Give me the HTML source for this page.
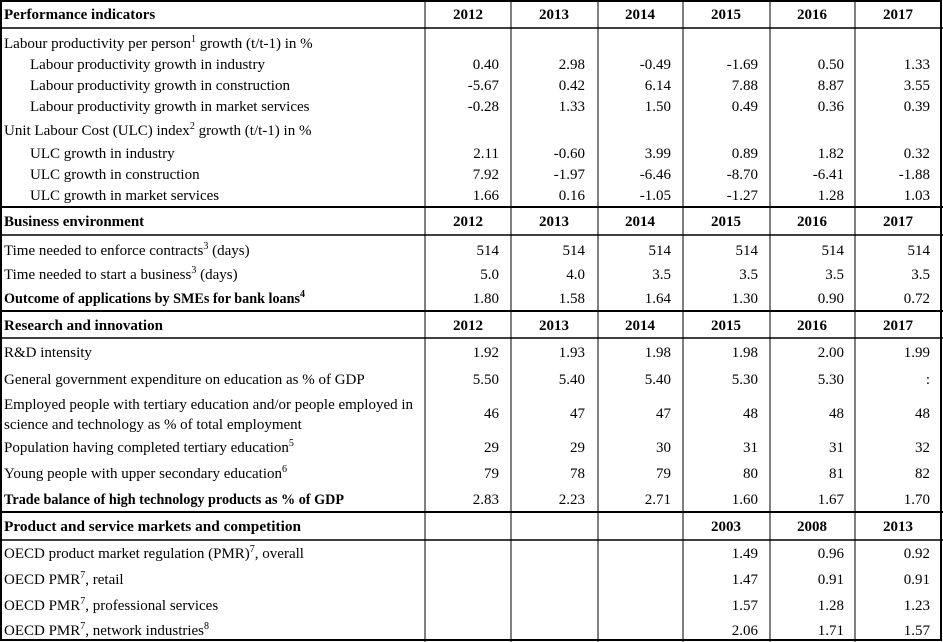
<!DOCTYPE html>
<html><head><meta charset="utf-8"><style>
html,body{margin:0;padding:0;background:#fff}
svg{display:block}
text{font-family:"Liberation Serif",serif;font-size:15px;fill:#000}
.b{font-weight:bold}
.r{text-anchor:end}
.c{text-anchor:middle}
</style></head><body>
<svg width="943" height="642" viewBox="0 0 943 642">
<g stroke="#000" fill="none">
<rect x="1" y="1" width="940" height="639" stroke-width="2"/>
<line x1="0" y1="28" x2="943" y2="28" stroke-width="1.5"/>
<line x1="0" y1="207" x2="943" y2="207" stroke-width="2"/>
<line x1="0" y1="235" x2="943" y2="235" stroke-width="1.5"/>
<line x1="0" y1="311" x2="943" y2="311" stroke-width="2"/>
<line x1="0" y1="338" x2="943" y2="338" stroke-width="1.5"/>
<line x1="0" y1="512" x2="943" y2="512" stroke-width="2"/>
<line x1="0" y1="540" x2="943" y2="540" stroke-width="1.5"/>
<line x1="425" y1="0" x2="425" y2="642"/>
<line x1="511" y1="0" x2="511" y2="642"/>
<line x1="598" y1="0" x2="598" y2="642"/>
<line x1="683" y1="0" x2="683" y2="642"/>
<line x1="770" y1="0" x2="770" y2="642"/>
<line x1="855" y1="0" x2="855" y2="642"/>
</g>
<!-- headers -->
<text class="b" x="4" y="19">Performance indicators</text>
<g class="b c"><text class="b c" x="468" y="19">2012</text><text class="b c" x="554" y="19">2013</text><text class="b c" x="640" y="19">2014</text><text class="b c" x="726" y="19">2015</text><text class="b c" x="812" y="19">2016</text><text class="b c" x="898" y="19">2017</text></g>
<text class="b" x="4" y="226">Business environment</text>
<text class="b c" x="468" y="226">2012</text><text class="b c" x="554" y="226">2013</text><text class="b c" x="640" y="226">2014</text><text class="b c" x="726" y="226">2015</text><text class="b c" x="812" y="226">2016</text><text class="b c" x="898" y="226">2017</text>
<text class="b" x="4" y="330">Research and innovation</text>
<text class="b c" x="468" y="330">2012</text><text class="b c" x="554" y="330">2013</text><text class="b c" x="640" y="330">2014</text><text class="b c" x="726" y="330">2015</text><text class="b c" x="812" y="330">2016</text><text class="b c" x="898" y="330">2017</text>
<text class="b" x="4" y="531" textLength="297" lengthAdjust="spacingAndGlyphs">Product and service markets and competition</text>
<text class="b c" x="726" y="531">2003</text><text class="b c" x="812" y="531">2008</text><text class="b c" x="898" y="531">2013</text>

<!-- performance rows -->
<text x="4" y="48">Labour productivity per person<tspan dy="-6" font-size="10">1</tspan><tspan dy="6"> growth (t/t-1) in %</tspan></text>
<text x="30" y="69">Labour productivity growth in industry</text>
<text x="30" y="90">Labour productivity growth in construction</text>
<text x="30" y="111">Labour productivity growth in market services</text>
<text x="4" y="135">Unit Labour Cost (ULC) index<tspan dy="-6" font-size="10">2</tspan><tspan dy="6"> growth (t/t-1) in %</tspan></text>
<text x="30" y="158">ULC growth in industry</text>
<text x="30" y="179">ULC growth in construction</text>
<text x="30" y="200">ULC growth in market services</text>
<g>
<text class="r" x="499" y="69">0.40</text><text class="r" x="585" y="69">2.98</text><text class="r" x="671" y="69">-0.49</text><text class="r" x="758" y="69">-1.69</text><text class="r" x="844" y="69">0.50</text><text class="r" x="930" y="69">1.33</text>
<text class="r" x="499" y="90">-5.67</text><text class="r" x="585" y="90">0.42</text><text class="r" x="671" y="90">6.14</text><text class="r" x="758" y="90">7.88</text><text class="r" x="844" y="90">8.87</text><text class="r" x="930" y="90">3.55</text>
<text class="r" x="499" y="111">-0.28</text><text class="r" x="585" y="111">1.33</text><text class="r" x="671" y="111">1.50</text><text class="r" x="758" y="111">0.49</text><text class="r" x="844" y="111">0.36</text><text class="r" x="930" y="111">0.39</text>
<text class="r" x="499" y="158">2.11</text><text class="r" x="585" y="158">-0.60</text><text class="r" x="671" y="158">3.99</text><text class="r" x="758" y="158">0.89</text><text class="r" x="844" y="158">1.82</text><text class="r" x="930" y="158">0.32</text>
<text class="r" x="499" y="179">7.92</text><text class="r" x="585" y="179">-1.97</text><text class="r" x="671" y="179">-6.46</text><text class="r" x="758" y="179">-8.70</text><text class="r" x="844" y="179">-6.41</text><text class="r" x="930" y="179">-1.88</text>
<text class="r" x="499" y="200">1.66</text><text class="r" x="585" y="200">0.16</text><text class="r" x="671" y="200">-1.05</text><text class="r" x="758" y="200">-1.27</text><text class="r" x="844" y="200">1.28</text><text class="r" x="930" y="200">1.03</text>
</g>
<!-- business -->
<text x="4" y="255">Time needed to enforce contracts<tspan dy="-6" font-size="10">3</tspan><tspan dy="6"> (days)</tspan></text>
<text x="4" y="279">Time needed to start a business<tspan dy="-6" font-size="10">3</tspan><tspan dy="6"> (days)</tspan></text>
<text class="b" x="4" y="303"><tspan textLength="296" lengthAdjust="spacingAndGlyphs">Outcome of applications by SMEs for bank loans</tspan><tspan dy="-6" font-size="10">4</tspan></text>
<text class="r" x="499" y="255">514</text><text class="r" x="585" y="255">514</text><text class="r" x="671" y="255">514</text><text class="r" x="758" y="255">514</text><text class="r" x="844" y="255">514</text><text class="r" x="930" y="255">514</text>
<text class="r" x="499" y="279">5.0</text><text class="r" x="585" y="279">4.0</text><text class="r" x="671" y="279">3.5</text><text class="r" x="758" y="279">3.5</text><text class="r" x="844" y="279">3.5</text><text class="r" x="930" y="279">3.5</text>
<text class="r" x="499" y="303">1.80</text><text class="r" x="585" y="303">1.58</text><text class="r" x="671" y="303">1.64</text><text class="r" x="758" y="303">1.30</text><text class="r" x="844" y="303">0.90</text><text class="r" x="930" y="303">0.72</text>
<!-- research -->
<text x="4" y="357">R&amp;D intensity</text>
<text x="4" y="384">General government expenditure on education as % of GDP</text>
<text x="4" y="409">Employed people with tertiary education and/or people employed in</text>
<text x="4" y="429">science and technology as % of total employment</text>
<text x="4" y="452">Population having completed tertiary education<tspan dy="-6" font-size="10">5</tspan></text>
<text x="4" y="478">Young people with upper secondary education<tspan dy="-6" font-size="10">6</tspan></text>
<text class="b" x="4" y="504" textLength="340" lengthAdjust="spacingAndGlyphs">Trade balance of high technology products as % of GDP</text>
<text class="r" x="499" y="357">1.92</text><text class="r" x="585" y="357">1.93</text><text class="r" x="671" y="357">1.98</text><text class="r" x="758" y="357">1.98</text><text class="r" x="844" y="357">2.00</text><text class="r" x="930" y="357">1.99</text>
<text class="r" x="499" y="384">5.50</text><text class="r" x="585" y="384">5.40</text><text class="r" x="671" y="384">5.40</text><text class="r" x="758" y="384">5.30</text><text class="r" x="844" y="384">5.30</text><text class="r" x="930" y="384">:</text>
<text class="r" x="499" y="418">46</text><text class="r" x="585" y="418">47</text><text class="r" x="671" y="418">47</text><text class="r" x="758" y="418">48</text><text class="r" x="844" y="418">48</text><text class="r" x="930" y="418">48</text>
<text class="r" x="499" y="452">29</text><text class="r" x="585" y="452">29</text><text class="r" x="671" y="452">30</text><text class="r" x="758" y="452">31</text><text class="r" x="844" y="452">31</text><text class="r" x="930" y="452">32</text>
<text class="r" x="499" y="478">79</text><text class="r" x="585" y="478">78</text><text class="r" x="671" y="478">79</text><text class="r" x="758" y="478">80</text><text class="r" x="844" y="478">81</text><text class="r" x="930" y="478">82</text>
<text class="r" x="499" y="504">2.83</text><text class="r" x="585" y="504">2.23</text><text class="r" x="671" y="504">2.71</text><text class="r" x="758" y="504">1.60</text><text class="r" x="844" y="504">1.67</text><text class="r" x="930" y="504">1.70</text>
<!-- product -->
<text x="4" y="558">OECD product market regulation (PMR)<tspan dy="-6" font-size="10">7</tspan><tspan dy="6">, overall</tspan></text>
<text x="4" y="584">OECD PMR<tspan dy="-6" font-size="10">7</tspan><tspan dy="6">, retail</tspan></text>
<text x="4" y="610">OECD PMR<tspan dy="-6" font-size="10">7</tspan><tspan dy="6">, professional services</tspan></text>
<text x="4" y="635">OECD PMR<tspan dy="-6" font-size="10">7</tspan><tspan dy="6">, network industries</tspan><tspan dy="-6" font-size="10">8</tspan></text>
<text class="r" x="758" y="558">1.49</text><text class="r" x="844" y="558">0.96</text><text class="r" x="930" y="558">0.92</text>
<text class="r" x="758" y="584">1.47</text><text class="r" x="844" y="584">0.91</text><text class="r" x="930" y="584">0.91</text>
<text class="r" x="758" y="610">1.57</text><text class="r" x="844" y="610">1.28</text><text class="r" x="930" y="610">1.23</text>
<text class="r" x="758" y="635">2.06</text><text class="r" x="844" y="635">1.71</text><text class="r" x="930" y="635">1.57</text>
</svg>
</body></html>
